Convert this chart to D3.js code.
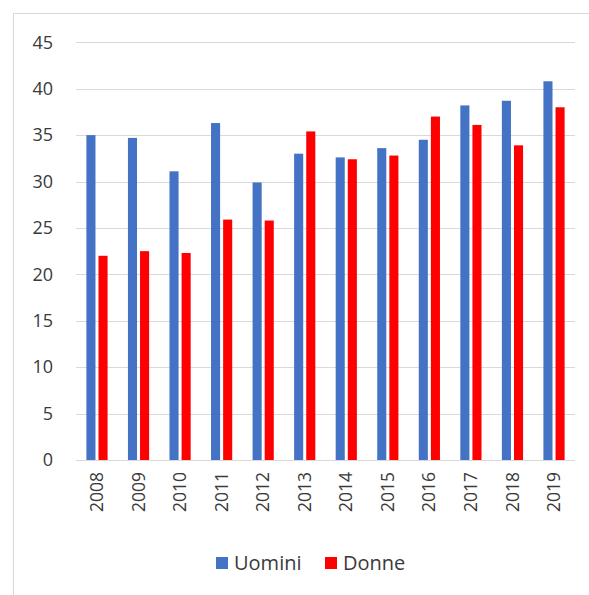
<!DOCTYPE html>
<html>
<head>
<meta charset="utf-8">
<script src="https://cdn.jsdelivr.net/npm/d3@7"></script>
<style>
  body { margin: 0; background: #fff; }
  text { font-family: "Open Sans", sans-serif; fill: #3a3a3a; }
</style>
</head>
<body>
<svg id="chart" width="589" height="595"></svg>
<script>
const years = ["2008", "2009", "2010", "2011", "2012", "2013", "2014", "2015", "2016", "2017", "2018", "2019"];
const series = ["Uomini", "Donne"];
const uomini = [35.0, 34.7, 31.1, 36.3, 29.9, 33.0, 32.6, 33.6, 34.5, 38.2, 38.7, 40.8];
const donne = [22.0, 22.5, 22.3, 25.9, 25.8, 35.4, 32.4, 32.8, 37.0, 36.1, 33.9, 38.0];
const yTicks = [0, 5, 10, 15, 20, 25, 30, 35, 40, 45];
const colors = { Uomini: "#4472C4", Donne: "#FF0000" };

const svg = d3.select("#chart");

// chart frame (only top and left edges visible)
svg.append("path")
  .attr("d", "M13.5,595V13.5H589")
  .attr("fill", "none")
  .attr("stroke", "#d9d9d9");

const x0 = d3.scaleBand()
  .domain(years)
  .range([76, 575])
  .paddingInner(0.49)
  .paddingOuter(0.25);

const x1 = d3.scaleBand()
  .domain(series)
  .range([0, x0.bandwidth()])
  .paddingInner(0.25);

const y = d3.scaleLinear()
  .domain([0, 45])
  .range([460, 42.3]);

// gridlines
svg.append("g")
  .selectAll("line")
  .data(yTicks)
  .join("line")
  .attr("x1", 76)
  .attr("x2", 575)
  .attr("y1", (d) => Math.round(y(d)) + 0.5)
  .attr("y2", (d) => Math.round(y(d)) + 0.5)
  .attr("stroke", "#d9d9d9");

// y labels
svg.append("g")
  .selectAll("text")
  .data(yTicks)
  .join("text")
  .attr("x", 53)
  .attr("y", (d) => y(d))
  .attr("dy", "0.35em")
  .attr("text-anchor", "end")
  .style("font-size", "18px")
  .text((d) => d);

const rows = years.map((yr, i) => ({ year: yr, Uomini: uomini[i], Donne: donne[i] }));

const groups = svg.append("g")
  .selectAll("g")
  .data(rows)
  .join("g")
  .attr("transform", (d) => `translate(${x0(d.year)},0)`);

groups.selectAll("rect")
  .data((d) => series.map((s) => ({ key: s, value: d[s] })))
  .join("rect")
  .attr("x", (d) => x1(d.key))
  .attr("width", x1.bandwidth())
  .attr("y", (d) => y(d.value))
  .attr("height", (d) => y(0) - y(d.value))
  .attr("fill", (d) => colors[d.key]);

// x labels, rotated
svg.append("g")
  .selectAll("text")
  .data(years)
  .join("text")
  .attr("transform", (d) => `translate(${x0(d) + x0.bandwidth() / 2},472) rotate(-90)`)
  .attr("dy", "0.35em")
  .attr("text-anchor", "end")
  .style("font-size", "17.5px")
  .text((d) => d);

// legend
const legendItems = [
  { key: "Uomini", x: 216 },
  { key: "Donne", x: 325 }
];

const legend = svg.append("g")
  .selectAll("g")
  .data(legendItems)
  .join("g")
  .attr("transform", (d) => `translate(${d.x},557)`);

legend.append("rect")
  .attr("width", 12)
  .attr("height", 12)
  .attr("fill", (d) => colors[d.key]);

legend.append("text")
  .attr("x", 18)
  .attr("y", 6)
  .attr("dy", "0.35em")
  .style("font-size", "20px")
  .text((d) => d.key);
</script>
</body>
</html>
